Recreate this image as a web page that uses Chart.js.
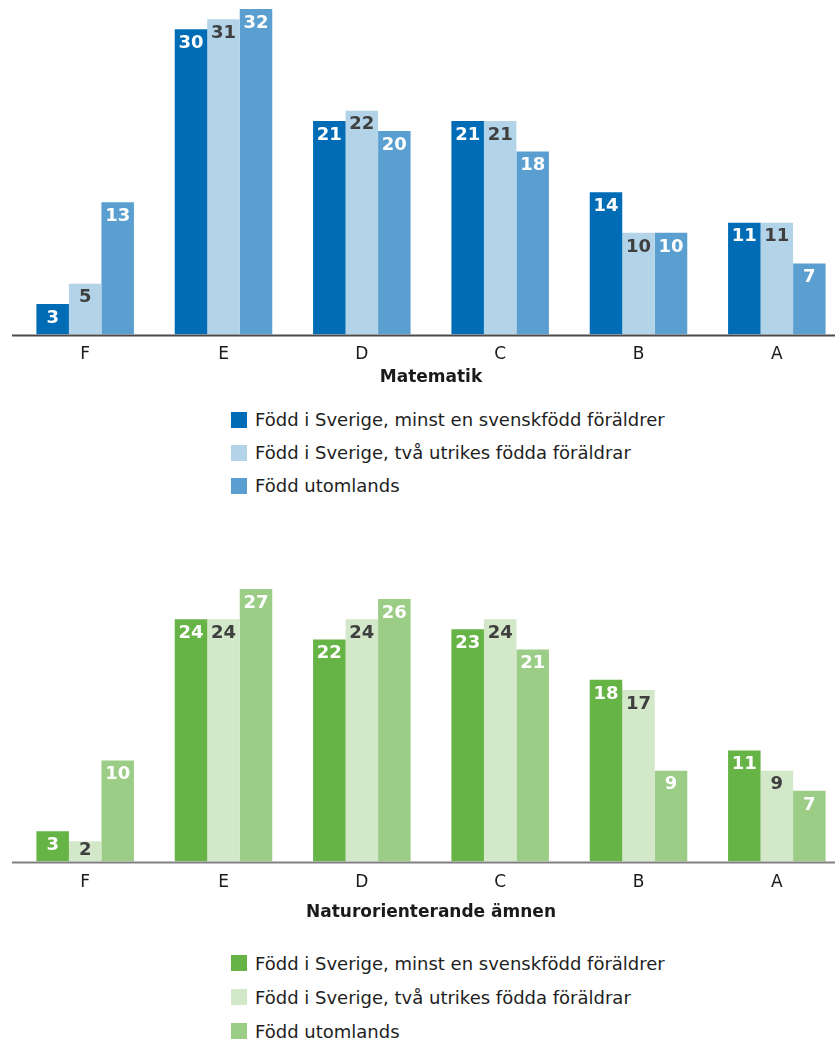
<!DOCTYPE html>
<html>
<head>
<meta charset="utf-8">
<script src="https://cdn.jsdelivr.net/npm/chart.js@4.4.1/dist/chart.umd.min.js"></script>
<style>
  html, body { margin: 0; padding: 0; background: #fff; }
  body { width: 835px; height: 1041px; overflow: hidden; position: relative; font-family: "DejaVu Sans", sans-serif; }
  canvas { position: absolute; left: 0; }
  #mathChart { top: 0; }
  #sciChart { top: 580px; }
  .legend { position: absolute; left: 231px; }
  .legend .row { display: flex; align-items: center; font-size: 18px; color: #1e1e1e; white-space: nowrap; }
  .legend .box { width: 16px; height: 16px; margin-right: 8px; flex: none; }
</style>
</head>
<body>
<canvas id="mathChart" width="846" height="386"></canvas>
<div class="legend" id="mathLegend" style="top:403px"></div>
<canvas id="sciChart" width="846" height="341"></canvas>
<div class="legend" id="sciLegend" style="top:946px"></div>

<script>
// Grade categories along the x axis
const grades = ['F', 'E', 'D', 'C', 'B', 'A'];

// Student groups
const groupNames = [
  'Född i Sverige, minst en svenskfödd föräldrer',
  'Född i Sverige, två utrikes födda föräldrar',
  'Född utomlands'
];

// Matematik, share per grade (%)
const mathSwedishParent = [3, 30, 21, 21, 14, 11];
const mathForeignParents = [5, 31, 22, 21, 10, 11];
const mathForeignBorn = [13, 32, 20, 18, 10, 7];

// Naturorienterande ämnen, share per grade (%)
const sciSwedishParent = [3, 24, 22, 23, 18, 11];
const sciForeignParents = [2, 24, 24, 24, 17, 9];
const sciForeignBorn = [10, 27, 26, 21, 9, 7];

const blues = ['#006cb5', '#b3d3e8', '#5a9fd0'];
const greens = ['#66b346', '#d2e8c8', '#9ccd87'];
const labelColors = ['#ffffff', '#3f3f3f', '#ffffff'];

// Baseline across the full width plus value labels inside the bar tops
const barLabels = {
  id: 'barLabels',
  afterDatasetsDraw(chart, args, opts) {
    const ctx = chart.ctx;
    const base = chart.scales.y.getPixelForValue(0);
    ctx.save();
    ctx.strokeStyle = opts.axisColor;
    ctx.lineWidth = 2;
    ctx.beginPath();
    ctx.moveTo(12, base + 1);
    ctx.lineTo(chart.width, base + 1);
    ctx.stroke();

    ctx.font = 'bold 18px "DejaVu Sans", sans-serif';
    ctx.textAlign = 'center';
    ctx.textBaseline = 'middle';
    chart.data.datasets.forEach((ds, di) => {
      const meta = chart.getDatasetMeta(di);
      ctx.fillStyle = labelColors[di];
      meta.data.forEach((bar, i) => {
        const y = Math.min(bar.y + 14, base - 11);
        ctx.fillText(String(ds.data[i]), bar.x, y);
      });
    });
    ctx.restore();
  }
};

function buildChart(canvasId, legendId, series, colors, title, yMax, axisColor, tickPad, titlePadTop, rowHeight) {
  const datasets = series.map((values, i) => ({
    label: groupNames[i],
    data: values,
    backgroundColor: colors[i],
    borderWidth: 0,
    categoryPercentage: 0.705,
    barPercentage: 1.0
  }));

  const chart = new Chart(document.getElementById(canvasId), {
    type: 'bar',
    data: { labels: grades, datasets },
    options: {
      responsive: false,
      animation: false,
      events: [],
      layout: { padding: { left: 16, top: 9, right: 0, bottom: 0 } },
      plugins: {
        legend: { display: false },
        tooltip: { enabled: false },
        barLabels: { axisColor }
      },
      scales: {
        x: {
          grid: { display: false, drawTicks: false },
          border: { display: false },
          ticks: {
            padding: tickPad,
            color: '#1a1a1a',
            font: { family: '"DejaVu Sans", sans-serif', size: 17 }
          },
          title: {
            display: true,
            text: title,
            color: '#1a1a1a',
            padding: { top: titlePadTop, bottom: 0 },
            font: { family: '"DejaVu Sans", sans-serif', size: 17, weight: 'bold', lineHeight: 1 }
          }
        },
        y: { display: false, min: 0, max: yMax }
      }
    },
    plugins: [barLabels]
  });

  // HTML legend built from the chart's datasets
  const legend = document.getElementById(legendId);
  chart.data.datasets.forEach(ds => {
    const row = document.createElement('div');
    row.className = 'row';
    row.style.height = rowHeight + 'px';
    const box = document.createElement('span');
    box.className = 'box';
    box.style.background = ds.backgroundColor;
    const txt = document.createElement('span');
    txt.textContent = ds.label;
    row.appendChild(box);
    row.appendChild(txt);
    legend.appendChild(row);
  });
  return chart;
}

buildChart('mathChart', 'mathLegend',
  [mathSwedishParent, mathForeignParents, mathForeignBorn],
  blues, 'Matematik', 32, '#4a4a4a', 9.5, -5, 33);

buildChart('sciChart', 'sciLegend',
  [sciSwedishParent, sciForeignParents, sciForeignBorn],
  greens, 'Naturorienterande ämnen', 27, '#808080', 11.3, -0.5, 34);
</script>
</body>
</html>
